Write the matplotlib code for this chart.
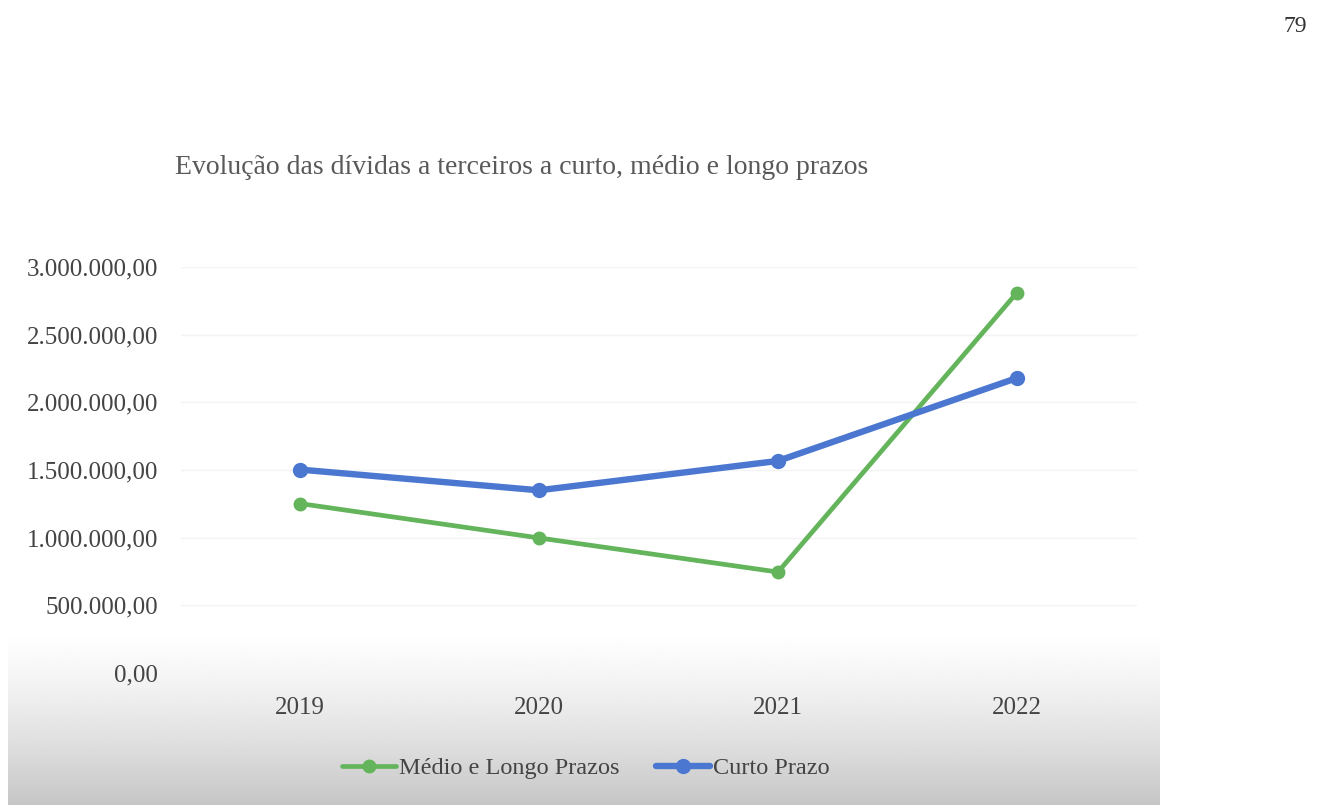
import numpy as np
import matplotlib
matplotlib.use("Agg")
import matplotlib.pyplot as plt
from matplotlib.ticker import FuncFormatter

# Dados
anos = ['2019', '2020', '2021', '2022']
medio_longo = [1252000, 998000, 746000, 2811000]
curto_prazo = [1503000, 1350000, 1567000, 2180000]
y_ticks = [0, 500000, 1000000, 1500000, 2000000, 2500000, 3000000]

verde = '#63b45b'
azul = '#4b77d1'
texto = '#444444'

plt.rcParams['font.family'] = ['Liberation Serif', 'DejaVu Serif']

W, H = 1322, 805
fig = plt.figure(figsize=(W / 100, H / 100), dpi=100)

# fundo do grafico com degrade cinzento na parte de baixo
bg = fig.add_axes([0, 0, 1, 1], zorder=0)
bg.set_xlim(0, W)
bg.set_ylim(H, 0)
bg.axis('off')
yy = np.linspace(110, H, 300)
t = np.clip((yy - 630) / (H - 630), 0, 1)
grad = 1 - 0.22 * t ** 1.3
bg.imshow(grad[:, None], extent=[8, 1160, H, 110], cmap='gray', vmin=0, vmax=1,
          aspect='auto', interpolation='bilinear')
bg.text(1295, 27, '79', fontsize=17, color='#333333', ha='center', va='center')
bg.text(175, 168, 'Evolução das dívidas a terceiros a curto, médio e longo prazos',
        fontsize=20, color='#595959', ha='left', va='center')

# area do grafico
ax = fig.add_axes([180.5 / W, 1 - 673 / H, 956 / W, 406 / H], zorder=1)
ax.patch.set_alpha(0)
x = np.arange(len(anos))
ax.plot(x, medio_longo, color=verde, lw=3.4, marker='o', ms=9,
        label='Médio e Longo Prazos', solid_capstyle='round')
ax.plot(x, curto_prazo, color=azul, lw=4.6, marker='o', ms=10,
        label='Curto Prazo', solid_capstyle='round')

ax.set_xlim(-0.5, len(anos) - 0.5)
ax.set_ylim(0, 3000000)
ax.set_xticks(x)
ax.set_xticklabels(anos)
ax.set_yticks(y_ticks)
ax.yaxis.set_major_formatter(FuncFormatter(
    lambda v, p: f'{v:,.2f}'.replace(',', 'X').replace('.', ',').replace('X', '.')))
ax.tick_params(axis='both', length=0, labelsize=18, colors=texto)
ax.tick_params(axis='y', pad=16)
ax.tick_params(axis='x', pad=17)
ax.grid(axis='y', color='#f3f3f3', lw=1)
ax.set_axisbelow(True)
for s in ax.spines.values():
    s.set_visible(False)

fig.legend(loc='center', bbox_to_anchor=(586 / W, 1 - 768 / H), ncol=2, frameon=False,
           fontsize=17.5, handlelength=2.2, handletextpad=0.15, columnspacing=1.5,
           labelcolor=texto)

fig.savefig('out.png', dpi=100)
